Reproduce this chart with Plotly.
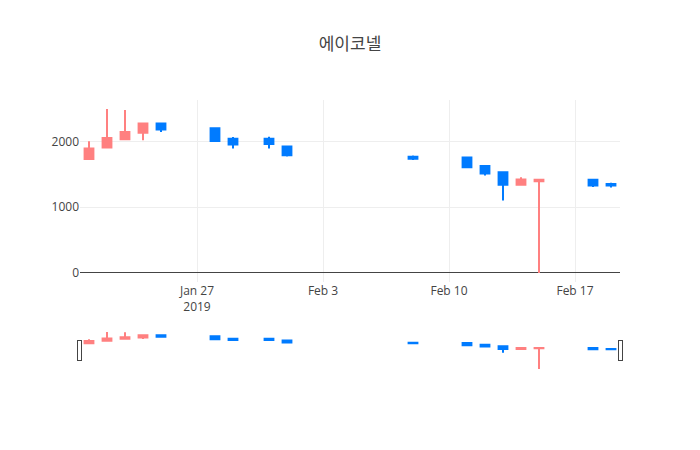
import plotly.graph_objects as go

dates = ["2019-01-21", "2019-01-22", "2019-01-23", "2019-01-24", "2019-01-25",
         "2019-01-28", "2019-01-29", "2019-01-31", "2019-02-01", "2019-02-08",
         "2019-02-11", "2019-02-12", "2019-02-13", "2019-02-14", "2019-02-15",
         "2019-02-18", "2019-02-19"]
open_ = [1730, 1905, 2030, 2130, 2270, 2200, 2040, 2040, 1920, 1765,
         1755, 1625, 1530, 1340, 1395, 1415, 1350]
high = [2000, 2490, 2475, 2270, 2270, 2200, 2065, 2070, 1925, 1785,
        1755, 1625, 1530, 1455, 1415, 1415, 1370]
low = [1730, 1905, 2030, 2015, 2140, 2000, 1890, 1890, 1770, 1715,
       1605, 1480, 1100, 1340, 0, 1305, 1300]
close = [1890, 2050, 2140, 2270, 2180, 2005, 1950, 1960, 1790, 1735,
         1605, 1510, 1340, 1420, 1415, 1330, 1330]

inc = "rgb(255,128,128)"
dec = "rgb(0,123,255)"

fig = go.Figure(go.Candlestick(
    x=dates, open=open_, high=high, low=low, close=close,
    increasing=dict(line=dict(color=inc), fillcolor=inc),
    decreasing=dict(line=dict(color=dec), fillcolor=dec),
))
fig.update_layout(
    template="none",
    width=700, height=450,
    title=dict(text="에이코넬", x=0.5, font=dict(size=17, color="#444")),
    margin=dict(l=80, r=80, t=100, b=80),
    showlegend=False,
    font=dict(family="Open Sans, Noto Sans CJK KR", color="#444", size=12),
    xaxis=dict(rangeslider=dict(visible=True), gridcolor="#eee"),
    yaxis=dict(gridcolor="#eee", zerolinecolor="#444",
               tickvals=[0, 1000, 2000]),
)
fig.write_html("out.html")
